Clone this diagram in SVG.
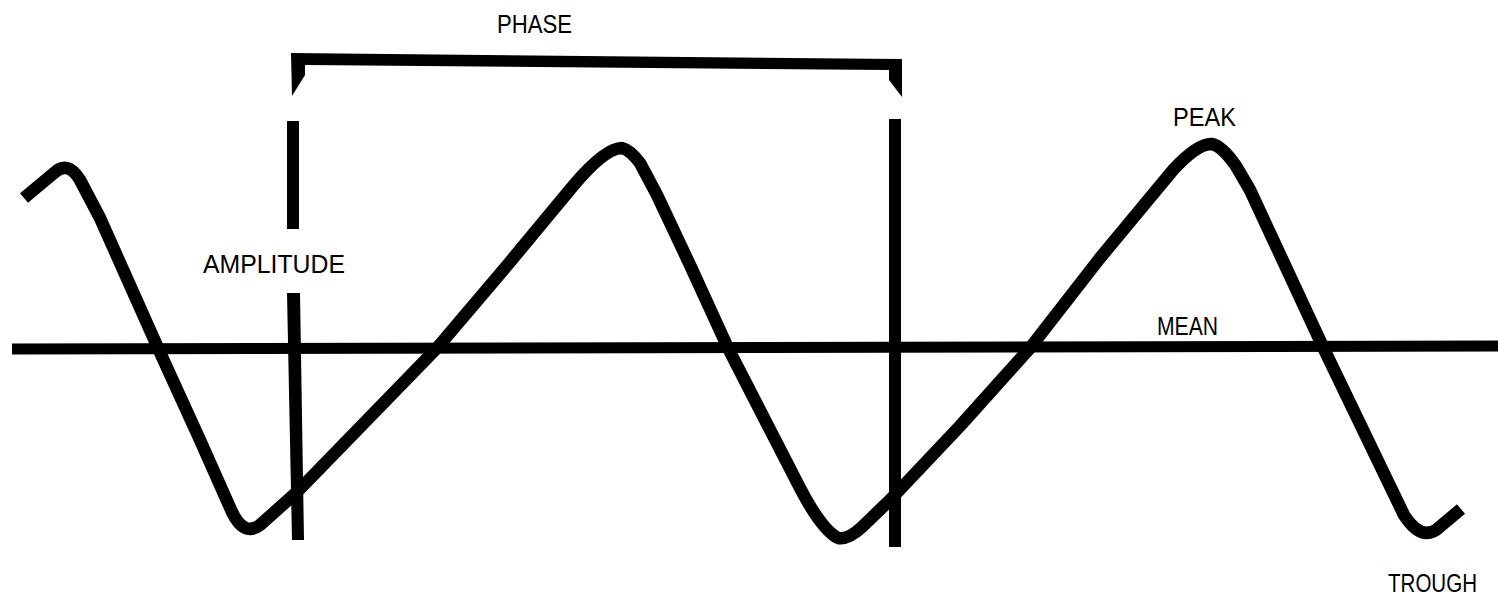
<svg xmlns="http://www.w3.org/2000/svg" width="1498" height="600" viewBox="0 0 1498 600">
<style>
.lbl{font-family:"Liberation Sans",Arial,sans-serif;font-size:25px;fill:#000}
.ln{stroke:#000;fill:none}
</style>
<rect width="1498" height="600" fill="#fff"/>
<g id="mean-line">
<line class="ln" x1="12" y1="349" x2="1498" y2="346" stroke-width="11"/>
</g>
<g id="phase-bracket">
<polygon points="291,53 902,59 902,97 889,80 889,70 305,65 305,75 292,96" fill="#000"/>
</g>
<g id="phase-bars">
<polygon points="287,121 299,121 299,229 287,229" fill="#000"/>
<polygon points="287,293 300,293 304,540 292,540" fill="#000"/>
<polygon points="889,119 901,119 901,547 889,547" fill="#000"/>
</g>
<g id="wave">
<path class="ln" stroke-width="12.5" stroke-linejoin="round" d="M 24 198 L 54 173 Q 68 160 80 180 L 100 218 L 158 348 L 200 440 L 232 512 Q 244 537 260 525 L 297 492 L 437 348 L 510 262 L 573 186 Q 605 148 622 148 Q 630 150 640 163 L 657 195 L 690 265 L 728 348 L 800 488 Q 822 530 838 538 Q 848 540 862 527 L 890 500 L 960 426 L 1030 348 L 1100 258 L 1173 170 Q 1198 143 1212 144 Q 1222 146 1236 166 L 1250 190 L 1323 347 L 1404 515 Q 1420 540 1436 530 L 1461 509"/>
</g>
<g id="labels">
<text id="phase" class="lbl" x="497" y="33" textLength="75" lengthAdjust="spacingAndGlyphs">PHASE</text>
<text id="amplitude" class="lbl" x="203" y="273" textLength="142" lengthAdjust="spacingAndGlyphs">AMPLITUDE</text>
<text id="peak" class="lbl" x="1173" y="126" textLength="63" lengthAdjust="spacingAndGlyphs">PEAK</text>
<text id="mean" class="lbl" x="1157" y="335" textLength="61" lengthAdjust="spacingAndGlyphs">MEAN</text>
<text id="trough" class="lbl" x="1388" y="592" textLength="89" lengthAdjust="spacingAndGlyphs">TROUGH</text>
</g>
</svg>
